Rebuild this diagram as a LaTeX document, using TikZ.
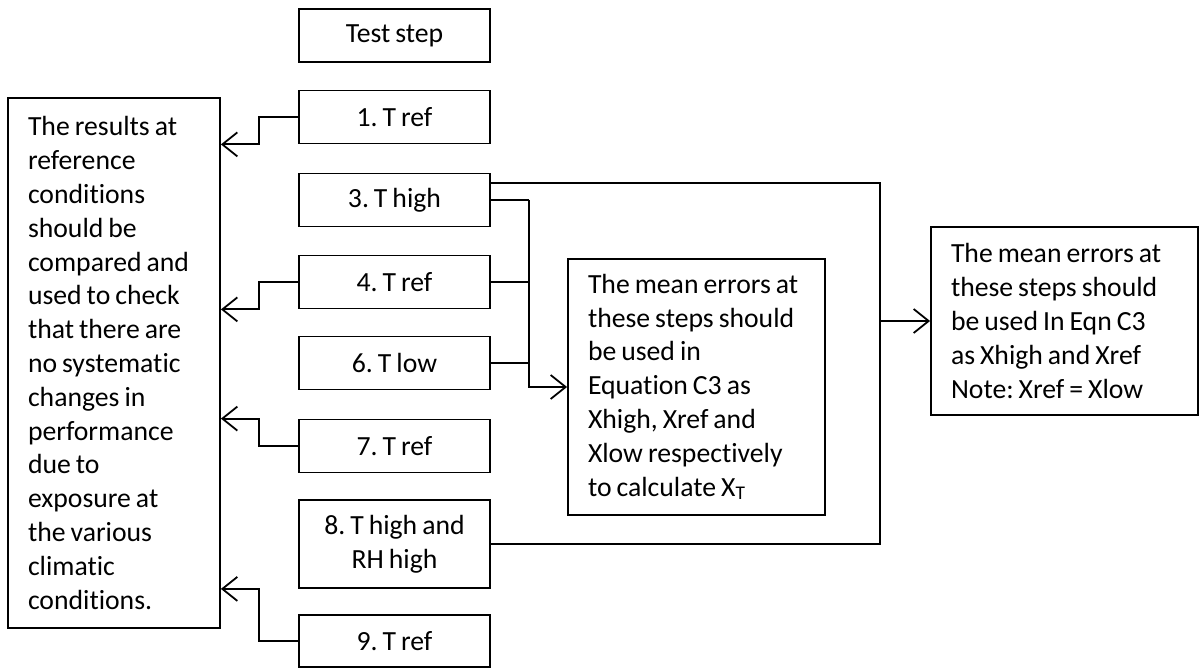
\documentclass[tikz,border=0pt]{standalone}
\usepackage{fontspec}
\setmainfont{Carlito}[WordSpace=0.8, Ligatures=NoCommon]
\usetikzlibrary{arrows.meta}
\frenchspacing

\begin{document}
\begin{tikzpicture}[x=1pt, y=-1pt, line width=1.8pt,
  >={Straight Barb[length=15pt,width=24pt,line width=1.8pt]}]

\tikzset{
    every node/.style={font=\fontsize{27.7}{33.8}\selectfont},
    stepbox/.style={
        draw,
        minimum width=191,
        minimum height=53,
        inner sep=0,
        align=center
    },
    notebox/.style={
        draw,
        align=flush left,
        inner xsep=20,
        inner ysep=0
    }
}

\useasboundingbox (0,0) rectangle (1200,668);

\node[stepbox] (head) at (394.5,35.5) {Test step};
\node[stepbox] (s1) at (394.5,117) {1. T ref};
\node[stepbox] (s3) at (394.5,200) {3. T high};
\node[stepbox] (s4) at (394.5,282) {4. T ref};
\node[stepbox] (s6) at (394.5,363) {6. T low};
\node[stepbox] (s7) at (394.5,446) {7. T ref};
\node[stepbox, minimum height=88] (s8) at (394.5,544) {8. T high and\\RH high};
\node[stepbox, minimum height=52] (s9) at (394.5,641) {9. T ref};

\node[notebox, text width=172, minimum height=530] (res) at (114,363)
  {The results at\\reference\\conditions\\should be\\compared and\\used to check\\that there are\\no systematic\\changes in\\performance\\due to\\exposure at\\the various\\climatic\\conditions.};
\node[notebox, text width=217, minimum height=256] (mid) at (696.5,387)
  {The mean errors at\\these steps should\\be used in\\Equation C3 as\\Xhigh, Xref and\\Xlow respectively\\to calculate X\textsubscript{T}};
\node[notebox, text width=227, minimum height=188] (rt) at (1064.5,321)
  {The mean errors at\\these steps should\\be used In Eqn C3\\as Xhigh and Xref\\Note: Xref = Xlow};

% reference steps back to the left note
\draw[->] (s1.west) -- ++(-39,0) |- (res.east |- s1.south);
\draw[->] (s4.west) -- ++(-39,0) |- (res.east |- s4.south);
\draw[->] (s7.west) -- ++(-39,0) |- (res.east |- s7.north);
\draw[->] (s9.west) -- ++(-39,0) |- (res.east |- s8.south);

% steps 3, 4, 6
\draw (s3.east) -- ++(38,0) coordinate (mbus);
\draw (s4.east) -- (mbus |- s4.east);
\draw (s6.east) -- (mbus |- s6.east);
\draw[->] (mbus) |- (mid.west);

% steps 3 and 8
\coordinate (obus) at (880,183);
\draw (s3.north east |- obus) -- (obus) |- (s8.east);
\draw[->] (obus |- rt.west) -- (rt.west);
    %
\end{tikzpicture}
\end{document}
